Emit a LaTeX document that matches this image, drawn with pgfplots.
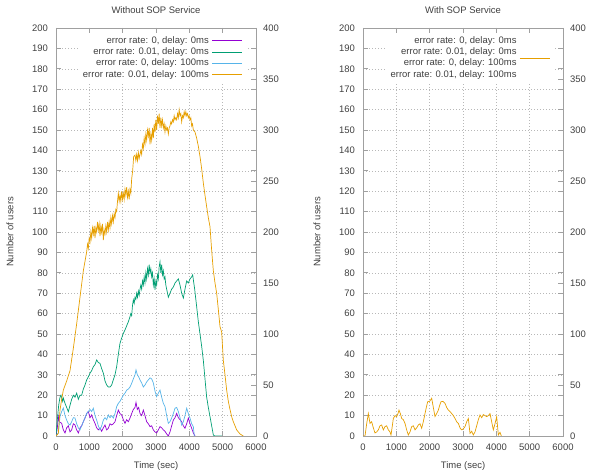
\documentclass[border=0pt]{standalone}
\usepackage{pgfplots}
\pgfplotsset{compat=1.18}
\usepackage{fontspec}
\setmainfont{Liberation Sans}
\definecolor{cpurple}{HTML}{9400D3}
\definecolor{cgreen}{HTML}{009E73}
\definecolor{cblue}{HTML}{56B4E9}
\definecolor{corange}{HTML}{E69F00}
\definecolor{ctext}{HTML}{404040}
\definecolor{cframe}{HTML}{A0A0A0}
\definecolor{cgrid}{HTML}{B8B8B8}

\pgfplotstableread{
x y
0 0
40 4
70 9.5
100 7
170 6.2
220 3
270 1.5
320 4
370 5
420 2
470 3
520 6
570 5.4
620 3
670 1.5
720 4
770 5
820 7
870 8.8
920 11
970 12
1020 9
1070 10.3
1120 8
1170 6.2
1220 4
1270 3
1320 4
1370 2.3
1420 4
1470 5.4
1520 3
1570 3.8
1620 6
1670 5.4
1720 6
1770 7
1820 10
1870 12.7
1920 11
1970 10.3
2020 8
2070 6.2
2120 8
2170 7
2220 8.8
2270 11
2320 13
2370 14
2400 16.5
2440 13
2480 14
2520 11.1
2570 10
2620 12.7
2670 10
2720 7
2770 6
2820 4.6
2870 5
2920 3
2970 2
3020 1.5
3070 3
3120 4.6
3170 4
3220 3
3270 2.3
3320 1
3370 0
3420 2
3470 5
3520 7.8
3570 9
3620 11.1
3670 9
3720 8
3770 7
3820 5
3870 3.8
3920 6
3970 8.8
4020 6
4070 3.8
4120 1.5
4170 0
}\tpurple

\pgfplotstableread{
x y
0 0
40 8
80 15
120 19
150 20
200 17
220 18.6
270 16
320 14
370 11.9
420 15
470 18
520 20
570 19
620 21
670 18
720 20
770 20
820 23
870 25
920 27.5
970 29
1020 30.8
1070 32
1120 34
1170 35
1220 37.3
1270 36
1320 35.6
1370 33
1420 30.8
1470 27
1520 25
1570 24
1620 24
1670 25
1720 27.6
1770 30
1820 34
1870 40
1920 45.5
1970 48
2020 50.3
2070 52
2120 54
2170 56
2220 58.5
2245 60
2270 59
2295 64
2320 66.7
2345 65
2370 68
2395 67
2420 70
2445 68
2470 71
2495 69
2520 72
2545 74
2570 72
2595 76
2620 74
2645 78
2670 75
2695 80
2720 77
2745 82
2770 79
2795 84
2820 80
2845 82
2870 78
2895 80
2920 74
2945 77
2970 71.6
2995 76
3020 74
3045 79
3070 77
3095 83
3120 85.4
3145 80
3170 84
3195 79
3220 81
3245 77
3270 78
3295 74
3320 72
3370 68
3420 70
3470 72
3520 73
3570 75
3620 76
3670 77
3720 74
3770 70
3820 67.6
3870 72
3920 76
3970 75
4020 77
4070 78
4100 79
4160 72
4220 63.4
4270 56
4320 50
4370 44
4420 37
4470 28
4520 19
4570 14
4620 9.5
4670 5
4720 0.5
4760 0
4980 0
}\tgreen

\pgfplotstableread{
x y
0 0
70 1.5
120 9.5
170 12
220 13.7
270 10
320 7.8
370 6
420 5.4
470 7
520 9
570 8.8
620 6
670 4
720 3
770 5
820 7
870 9
920 11
970 12
1020 13
1070 12
1120 13.6
1170 10
1220 7.8
1270 5
1320 3
1370 5
1420 7.8
1470 9
1520 8
1570 10.3
1620 9
1670 10
1720 8.8
1770 11
1820 14.4
1870 16
1920 17
1970 18.5
2020 20
2070 21
2120 22.5
2170 23
2220 24
2270 25.8
2320 28
2370 30
2400 32.4
2440 30
2480 29
2520 27.5
2570 26
2620 24
2670 25
2720 26.5
2770 27.5
2820 28.5
2870 28
2920 26
2970 22
3020 19.3
3070 21
3120 22.5
3170 19
3220 16
3270 14.4
3320 10
3370 6.2
3420 7
3470 8.8
3520 11
3570 13.6
3620 14
3670 12
3720 9
3770 5.4
3820 7
3870 10
3920 13.6
3970 11
4020 8.8
4070 6
4120 4.6
4150 0
}\tblue

\pgfplotstableread{
x y
0 0
70 1.3
120 12.7
170 18
220 22.5
320 27
420 32
520 43
620 55
720 68
820 81
920 90.3
945 94
970 92
995 97
1020 95
1045 100
1070 97
1095 102
1120 99
1145 103
1170 97
1195 102
1220 100
1245 105
1270 101
1295 104
1320 98
1345 103
1370 100
1395 104
1420 96
1445 101
1470 99
1495 103
1520 100
1545 105
1570 101
1595 105
1620 102
1645 107
1670 104
1695 108
1720 105
1745 109
1770 107
1795 111
1820 110
1845 115
1870 119
1895 115
1920 118
1945 115
1970 120
1995 116
2020 119
2045 116
2070 121
2095 118
2120 122
2145 117
2170 120
2195 116
2220 121
2245 119
2270 126
2300 130
2330 137
2370 137.7
2395 135
2420 138
2445 135
2470 139
2495 136
2520 138
2545 140
2570 138
2595 143
2620 141
2645 146
2670 143
2695 148
2720 145
2745 150
2770 147
2795 151
2820 143
2845 148
2870 145
2895 151
2920 146
2945 153
2970 149
2995 155
3020 150
3045 157
3070 153
3095 158
3120 151
3145 156
3170 152
3195 155
3220 151
3245 153
3270 149
3295 152
3320 150
3345 151
3370 148
3395 151
3420 152
3445 154
3470 153
3495 155
3520 154
3545 157
3570 155
3595 156
3620 155
3645 158
3670 156
3695 160
3720 157
3745 158
3770 154
3795 157
3820 156
3845 159
3870 157
3895 159
3920 157
3945 158
3970 156
3995 157
4020 155
4045 156
4070 152
4095 153
4120 150
4170 149
4220 146
4270 142
4320 137
4370 131
4420 124
4470 118
4520 112.4
4570 107
4620 102.6
4670 91
4720 81
4770 75
4820 70
4870 62
4920 53.6
4970 51
5020 37
5070 30
5120 22.5
5170 17
5220 13
5270 9.5
5320 7
5370 5
5420 3
5470 2
5520 1
5620 0
}\torange

\pgfplotstableread{
x y
0 0
60 0
110 6
160 11
210 6.2
260 7
310 4
360 1.5
410 2
460 3
510 5
560 5.4
610 3
660 4.6
710 5
760 3
810 2
840 0.5
880 5
910 8.6
960 10
1010 9.5
1050 11
1080 12.7
1120 11
1160 8.6
1210 8
1260 6.2
1310 3
1360 0.5
1410 2
1460 4.6
1510 5
1560 3
1610 4
1660 5.4
1710 6
1760 3.8
1810 7
1860 11
1900 14
1940 16.8
2000 17
2060 18.5
2110 14
2160 9.5
2210 11
2260 12.7
2300 15
2340 16.8
2400 17
2460 16
2510 14
2560 12.7
2610 12
2660 11
2710 10
2760 8.6
2810 7
2860 6.2
2910 4
2960 3
3010 3.5
3060 4.6
3110 7
3160 8.6
3210 1.3
3260 2.3
3310 0.5
3360 2
3410 5
3460 8
3510 10.3
3560 9
3610 10.5
3660 10
3710 9.5
3760 10
3810 11
3860 7
3910 3
3960 6
4010 9.5
4060 0.5
4110 1.8
4150 0
}\trorange

\pgfplotsset{
  base/.style={
    scale only axis, width=200bp, height=408bp, anchor=south west,
    xmin=0, xmax=6000, ymin=0, ymax=200,
    xtick={0,1000,...,6000}, ytick={0,10,...,200},
    scaled ticks=false,
    /pgf/number format/1000 sep={},
    /pgf/number format/assume math mode=true,
    tick align=inside, major tick length=5bp,
    axis line style={cframe, line width=0.8bp},
    every tick/.style={cframe, line width=0.6bp},
    grid=major,
    major grid style={cgrid, line width=0.5bp, dash pattern=on 1bp off 2bp},
    tick label style={font=\fontsize{9.5}{11}\selectfont, text=ctext},
    yticklabel style={inner sep=0pt, xshift=-8bp},
    xticklabel style={inner sep=0pt, yshift=-8bp},
    label style={font=\fontsize{9.5}{11}\selectfont, text=ctext},
    xlabel={Time (sec)},
    xlabel style={at={(axis description cs:0.5,0)}, anchor=center, yshift=-30bp},
    ylabel={Number of users},
    ylabel style={at={(axis description cs:-0.23,0.5)}, anchor=center},
    title style={font=\fontsize{9.5}{11}\selectfont, text=ctext, at={(axis description cs:0.5,1)}, anchor=center, yshift=12bp},
    legend cell align=right, legend plot pos=right,
    legend style={at={(axis description cs:1,1)}, anchor=north east,
      xshift=-10bp, yshift=-5bp,
      draw=none, fill=white, font=\fontsize{9.5}{11}\selectfont, text=ctext,
      nodes={inner sep=1.25bp, text height=6.8bp, text depth=2bp},
      row sep=0pt, column sep=2bp},
    legend image code/.code={\draw[#1] (0bp,0bp) -- (30bp,0bp);},
    every axis plot/.append style={line width=0.7bp, mark=none},
  },
  second/.style={
    scale only axis, width=200bp, height=408bp, anchor=south west,
    xmin=0, xmax=6000, ymin=0, ymax=400,
    axis x line=none, axis y line*=right,
    ytick={0,50,...,400},
    /pgf/number format/assume math mode=true,
    tick align=inside, major tick length=5bp,
    axis line style={cframe, line width=0.8bp},
    every tick/.style={cframe, line width=0.6bp},
    tick label style={font=\fontsize{9.5}{11}\selectfont, text=ctext},
    yticklabel style={inner sep=0pt, xshift=7bp, anchor=west},
  },
  invisiblelegend/.style={legend image code/.code={\path[draw=none, fill=none] (0bp,0bp) -- (30bp,0bp);}},
  shiftedlegend/.style={legend image code/.code={\path[draw=none, fill=none] (0bp,0bp) -- (30bp,0bp); \draw[corange, line width=0.7bp, overlay] (0bp,16bp) -- (30bp,16bp);}},
}

\begin{document}
\begin{tikzpicture}
\useasboundingbox (0,0) rectangle (589bp,473bp);
% left
\begin{axis}[base, at={(56bp,37bp)}, title={Without SOP Service}]
\addplot[cpurple] table {\tpurple};
\addlegendentry{error rate: 0, delay: 0ms}
\addplot[cgreen] table {\tgreen};
\addlegendentry{error rate: 0.01, delay: 0ms}
\addplot[cblue] table {\tblue};
\addlegendentry{error rate: 0, delay: 100ms}
\addplot[corange] table {\torange};
\addlegendentry{error rate: 0.01, delay: 100ms}
\end{axis}
\begin{axis}[second, at={(56bp,37bp)}]
\end{axis}
% right
\begin{axis}[base, at={(363bp,37bp)}, title={With SOP Service}]
\addlegendimage{invisiblelegend}
\addlegendentry{error rate: 0, delay: 0ms}
\addlegendimage{invisiblelegend}
\addlegendentry{error rate: 0.01, delay: 0ms}
\addlegendimage{invisiblelegend}
\addlegendentry{error rate: 0, delay: 100ms}
\addlegendimage{shiftedlegend}
\addlegendentry{error rate: 0.01, delay: 100ms}
\addplot[corange, forget plot] table {\trorange};
\end{axis}
\begin{axis}[second, at={(363bp,37bp)}]
\end{axis}
\end{tikzpicture}
\end{document}
